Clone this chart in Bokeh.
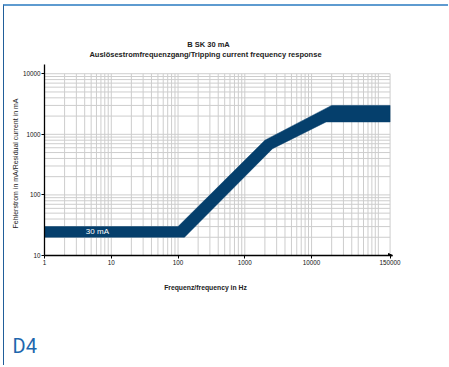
from bokeh.plotting import figure
from bokeh.models import (Range1d, Label, Arrow, NormalHead, FixedTicker, NumeralTickFormatter,
                          LinearAxis, LinearScale, Title)
from bokeh.embed import file_html
from bokeh.resources import INLINE

# ---- texts ----
title_text = "B SK 30 mA"
subtitle_text = "Auslösestromfrequenzgang/Tripping current frequency response"
x_label_text = "Frequenz/frequency in Hz"
y_label_text = "Fehlerstrom in mA/Residual current in mA"
band_label_text = "30 mA"
panel_text = "D4"

# ---- axes ----
x_ticks = [1, 10, 100, 1000, 10000, 150000]
y_ticks = [10, 100, 1000, 10000]
x_min, x_max, x_axis_end = 1, 150000, 163000
y_min, y_max, y_axis_end = 10, 10000, 14200

# ---- tripping band (frequency in Hz, current in mA) ----
upper_f = [1, 100, 2000, 20000, 150000]
upper_i = [30, 30, 800, 3000, 3000]
lower_f = [1, 125, 2600, 16500, 150000]
lower_i = [20, 20, 580, 1600, 1600]
band_label_f = 6.2
band_label_i = 25

# grid lines (log paper)
mantissas = [1, 2, 3, 4, 5, 6, 7, 8, 9]
grid_x = [m * 10 ** d for d in range(0, 5) for m in mantissas] + [100000, 150000]
grid_y = [m * 10 ** d for d in range(1, 4) for m in mantissas] + [10000]

# ---- page layout (pixels on the page) ----
PAGE_X0, PAGE_Y0 = 4, 6            # canvas origin on page (margin + CSS border)
FRAME_L, FRAME_R, FRAME_T, FRAME_B = 44, 392, 64, 255
W, H = 449 - PAGE_X0, 367 - PAGE_Y0

p = figure(width=W, height=H, x_axis_type="log", y_axis_type="log",
           x_range=Range1d(x_min, x_axis_end), y_range=Range1d(y_min, y_axis_end),
           output_backend="svg", toolbar_location=None,
           min_border_left=FRAME_L - PAGE_X0, min_border_right=449 - FRAME_R,
           min_border_top=FRAME_T - PAGE_Y0, min_border_bottom=367 - FRAME_B,
           styles={"margin-left": "3px", "margin-top": "4px",
                   "border-top": "2px solid #5e9bd0", "border-left": "1px solid #215e9a"})
p.outline_line_color = None
p.background_fill_color = "white"
p.border_fill_color = "white"
p.xgrid.visible = False
p.ygrid.visible = False

# linear "page pixel" ranges used to place the outer texts
p.extra_x_ranges = {"page": Range1d(FRAME_L, FRAME_R)}
p.extra_x_scales = {"page": LinearScale()}
p.extra_y_ranges = {"pagey": Range1d(FRAME_B, FRAME_T)}
p.extra_y_scales = {"pagey": LinearScale()}

# grid
p.segment(x0=grid_x, y0=[y_min] * len(grid_x), x1=grid_x, y1=[y_max] * len(grid_x),
          line_color="#cdcdcd", line_width=1)
p.segment(x0=[x_min] * len(grid_y), y0=grid_y, x1=[x_max] * len(grid_y), y1=grid_y,
          line_color="#cdcdcd", line_width=1)

# band
p.patch(upper_f + lower_f[::-1], upper_i + lower_i[::-1],
        fill_color="#053f6c", line_color="#053f6c", line_width=0.5)

p.add_layout(Label(x=band_label_f, y=band_label_i, text=band_label_text,
                   text_color="white", text_font_size="8px", text_font="Liberation Sans",
                   text_align="center", text_baseline="middle"))

for ax, ticks in ((p.xaxis[0], x_ticks), (p.yaxis[0], y_ticks)):
    ax.ticker = FixedTicker(ticks=ticks, minor_ticks=[])
    ax.formatter = NumeralTickFormatter(format="0")
    ax.axis_line_color = "black"
    ax.axis_line_width = 1.3
    ax.major_tick_line_color = "black"
    ax.major_tick_in = 0
    ax.major_tick_out = 3
    ax.minor_tick_in = 0
    ax.minor_tick_out = 0
    ax.major_label_text_font = "Liberation Sans"
    ax.major_label_text_font_size = "6.3px"
    ax.major_label_text_color = "#111111"
    ax.major_label_standoff = 1

p.add_layout(Arrow(end=NormalHead(size=4, fill_color="black", line_color="black"),
                   x_start=x_max, y_start=y_min, x_end=x_axis_end, y_end=y_min,
                   line_color="black", line_width=1.3))


def text_axis(side, text, pos, standoff, size, weight="normal", color="#222222",
              font="Liberation Sans", orientation="horizontal", tick_out=0):
    horiz = side in ("above", "below")
    kw = dict(x_range_name="page") if horiz else dict(y_range_name="pagey")
    ax = LinearAxis(ticker=FixedTicker(ticks=[pos], minor_ticks=[]),
                    major_label_overrides={pos: text}, bounds=(pos - 8, pos + 8),
                    axis_line_color=None, major_tick_line_color=None, minor_tick_line_color=None,
                    major_tick_in=0, major_tick_out=tick_out, minor_tick_in=0, minor_tick_out=0,
                    major_label_standoff=standoff, major_label_text_font_size=size,
                    major_label_text_font_style=weight, major_label_text_color=color,
                    major_label_text_font=font, major_label_orientation=orientation, **kw)
    p.add_layout(ax, side)


# above: subtitle (nearest the plot), then title
text_axis("above", subtitle_text, 205, 6, "7.5px", "bold")
text_axis("above", title_text, 208, -2, "7.5px", "bold")
# below: x label
text_axis("below", x_label_text, 205, 16, "6.8px", "bold")
# left: y label
text_axis("left", y_label_text, 163, 1, "7px", orientation="parallel")

# empty spacer band below the x label (invisible tick, empty label)
text_axis("below", "", 300, 0, "1px", tick_out=40)

# panel id at the bottom left of the page
p.add_layout(Title(text=panel_text, align="left", offset=12 - FRAME_L, standoff=0,
                   vertical_align="top", text_font="Roboto", text_font_size="20px",
                   text_font_style="normal", text_color="#1e67ad"), "below")

open("out.html", "w").write(file_html(p, INLINE))
